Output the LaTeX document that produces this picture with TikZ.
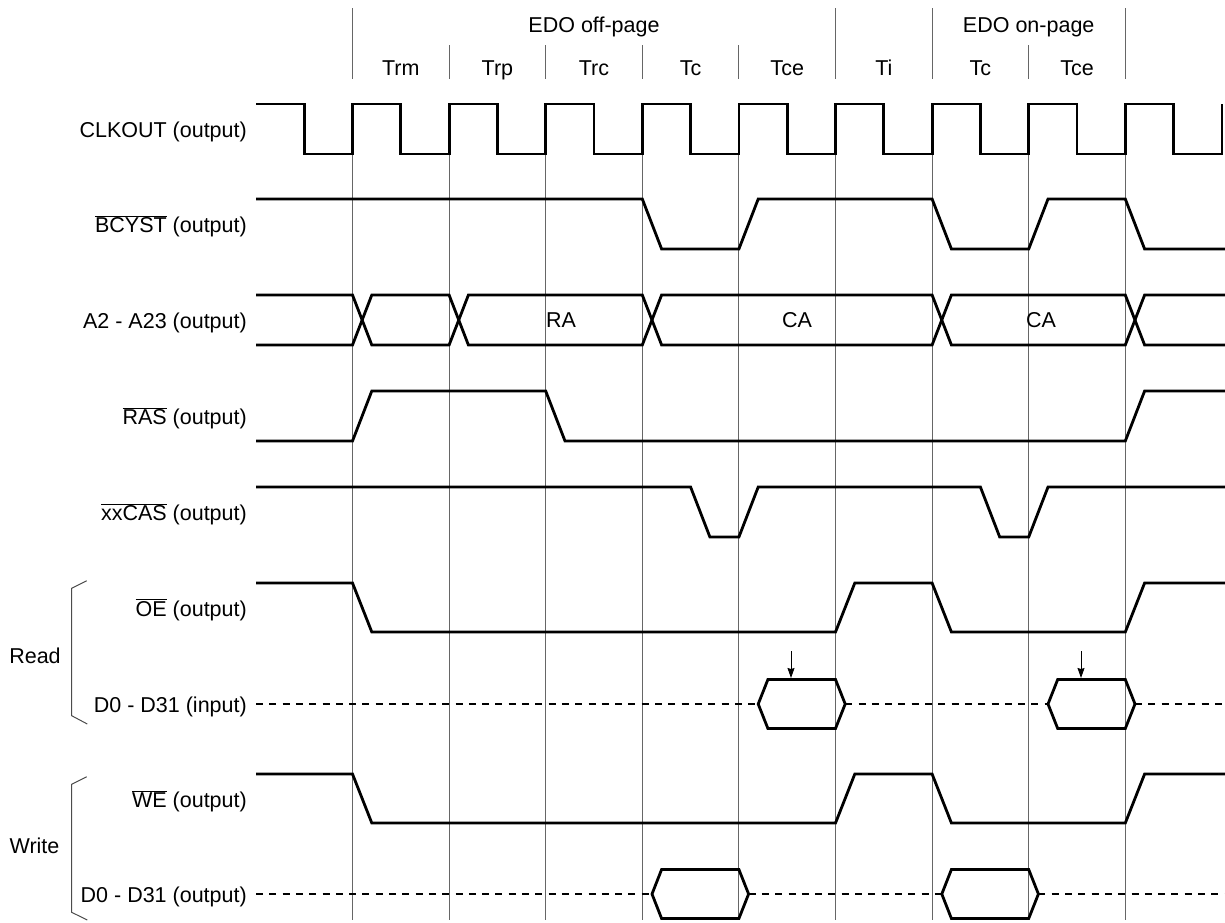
\documentclass[tikz,border=0pt]{standalone}
\usepackage{fontspec}
\setmainfont{Liberation Sans}
\usetikzlibrary{arrows.meta}
\tikzset{
  sig/.style={line width=2.8pt, line join=miter, line cap=butt},
  dsig/.style={sig, dash pattern=on 7pt off 6.3pt},
  gridline/.style={draw=black!60, line width=1pt},
  brace/.style={draw=black!70, line width=1pt},
  lbl/.style={font=\fontsize{21.5}{25}\selectfont, inner sep=0pt},
  sample/.style={line width=1pt, -{Stealth[length=10pt,width=7pt,inset=1pt]}}
}
\newcommand{\ovl}[1]{$\overline{\mbox{#1}}$}
\begin{document}
\begin{tikzpicture}[x=1pt,y=-1pt]
\useasboundingbox (0,0) rectangle (1225,922);

% grid lines
\foreach \xx in {352.5,449.1,545.7,642.3,738.9,835.5,932.1,1028.7,1125.3}
  \draw[gridline] (\xx,154) -- (\xx,920);
% header lines
\foreach \xx in {352.5,835.5,932.1,1125.3}
  \draw[gridline] (\xx,8) -- (\xx,79);
\foreach \xx in {449.1,545.7,642.3,738.9,1028.7}
  \draw[gridline] (\xx,45) -- (\xx,79);

% header texts
\node[lbl, anchor=base] (hoff) at (594,32) {EDO off-page};
\node[lbl, anchor=base] (hon) at (1028.7,32) {EDO on-page};
\node[lbl, anchor=base] (t1) at (400.8,75) {Trm};
\node[lbl, anchor=base] (t2) at (497.4,75) {Trp};
\node[lbl, anchor=base] (t3) at (594,75) {Trc};
\node[lbl, anchor=base] (t4) at (690.6,75) {Tc};
\node[lbl, anchor=base] (t5) at (787.2,75) {Tce};
\node[lbl, anchor=base] (t6) at (883.8,75) {Ti};
\node[lbl, anchor=base] (t7) at (980.4,75) {Tc};
\node[lbl, anchor=base] (t8) at (1077,75) {Tce};

% signal labels
\node[lbl, anchor=base east] (lclk) at (247,137) {CLKOUT (output)};
\node[lbl, anchor=base east] (lbcy) at (247,232.5) {\ovl{BCYST} (output)};
\node[lbl, anchor=base east] (ladr) at (247,328.5) {A2 - A23 (output)};
\node[lbl, anchor=base east] (lras) at (247,424.5) {\ovl{RAS} (output)};
\node[lbl, anchor=base east] (lcas) at (247,520.5) {\ovl{xxCAS} (output)};
\node[lbl, anchor=base east] (loe) at (247,616) {\ovl{OE} (output)};
\node[lbl, anchor=base east] (ldin) at (247,712) {D0 - D31 (input)};
\node[lbl, anchor=base east] (lwe) at (247,807) {\ovl{WE} (output)};
\node[lbl, anchor=base east] (ldout) at (247,902) {D0 - D31 (output)};

\node[lbl, anchor=base] (lread) at (35,663.5) {Read};
\node[lbl, anchor=base] (lwrite) at (34.5,853.5) {Write};

% braces
\draw[brace] (86.7,580.7) -- (71.7,588.3) -- (71.7,715.7) -- (87.3,724);
\draw[brace] (86.7,776.7) -- (71.7,784.3) -- (71.7,912.3) -- (87.3,920);

% CLKOUT
\draw[sig] (256,104) -- (304.2,104) -- (304.2,154) -- (352.5,154) -- (352.5,104)
  -- (400.8,104) -- (400.8,154) -- (449.1,154) -- (449.1,104)
  -- (497.4,104) -- (497.4,154) -- (545.7,154) -- (545.7,104)
  -- (594,104) -- (594,154) -- (642.3,154) -- (642.3,104)
  -- (690.6,104) -- (690.6,154) -- (738.9,154) -- (738.9,104)
  -- (787.2,104) -- (787.2,154) -- (835.5,154) -- (835.5,104)
  -- (883.8,104) -- (883.8,154) -- (932.1,154) -- (932.1,104)
  -- (980.4,104) -- (980.4,154) -- (1028.7,154) -- (1028.7,104)
  -- (1077,104) -- (1077,154) -- (1125.3,154) -- (1125.3,104)
  -- (1173.6,104) -- (1173.6,154) -- (1221.9,154) -- (1221.9,104);

% BCYST
\draw[sig] (256,199) -- (642.3,199) -- (661.6,249) -- (738.9,249) -- (758.2,199)
  -- (932.1,199) -- (951.4,249) -- (1028.7,249) -- (1048,199) -- (1125.3,199)
  -- (1144.6,249) -- (1225,249);

% A2 - A23 bus
\draw[sig] (256,295) -- (352.5,295) -- (371.8,345) -- (449.1,345) -- (468.4,295)
  -- (642.3,295) -- (661.6,345) -- (932.1,345) -- (951.4,295) -- (1125.3,295)
  -- (1144.6,345) -- (1225,345);
\draw[sig] (256,345) -- (352.5,345) -- (371.8,295) -- (449.1,295) -- (468.4,345)
  -- (642.3,345) -- (661.6,295) -- (932.1,295) -- (951.4,345) -- (1125.3,345)
  -- (1144.6,295) -- (1225,295);
\node[lbl] (ra) at (561,320) {RA};
\node[lbl] (ca1) at (797,320) {CA};
\node[lbl] (ca2) at (1041,320) {CA};

% RAS
\draw[sig] (256,441) -- (352.5,441) -- (371.8,391) -- (545.7,391) -- (565,441)
  -- (1125.3,441) -- (1144.6,391) -- (1225,391);

% xxCAS
\draw[sig] (256,487) -- (690.6,487) -- (709.9,537) -- (738.9,537) -- (758.2,487)
  -- (980.4,487) -- (999.7,537) -- (1028.7,537) -- (1048,487) -- (1225,487);

% OE
\draw[sig] (256,583) -- (352.5,583) -- (371.8,632) -- (835.5,632) -- (854.8,583)
  -- (932.1,583) -- (951.4,632) -- (1125.3,632) -- (1144.6,583) -- (1225,583);

% D0-D31 input
\draw[dsig] (256,704) -- (758.2,704);
\draw[sig] (758.2,704) -- (767.9,679.5) -- (835.5,679.5) -- (845.2,704)
  -- (835.5,728.5) -- (767.9,728.5) -- cycle;
\draw[dsig] (845.2,704) -- (1048,704);
\draw[sig] (1048,704) -- (1057.7,679.5) -- (1125.3,679.5) -- (1135,704)
  -- (1125.3,728.5) -- (1057.7,728.5) -- cycle;
\draw[dsig] (1135,704) -- (1225,704);

% sampling arrows
\coordinate (s1a) at (791,651);
\coordinate (s1b) at (791,678);
\coordinate (s2a) at (1081,651);
\coordinate (s2b) at (1081,678);
\draw[sample] (s1a) -- (s1b);
\draw[sample] (s2a) -- (s2b);

% WE
\draw[sig] (256,774) -- (352.5,774) -- (371.8,823) -- (835.5,823) -- (854.8,774)
  -- (932.1,774) -- (951.4,823) -- (1125.3,823) -- (1144.6,774) -- (1225,774);

% D0-D31 output
\draw[dsig] (256,894) -- (652,894);
\draw[sig] (652,894) -- (661.6,869.5) -- (738.9,869.5) -- (748.6,894)
  -- (738.9,918.5) -- (661.6,918.5) -- cycle;
\draw[dsig] (748.6,894) -- (941.8,894);
\draw[sig] (941.8,894) -- (951.4,869.5) -- (1028.7,869.5) -- (1038.4,894)
  -- (1028.7,918.5) -- (951.4,918.5) -- cycle;
\draw[dsig] (1038.4,894) -- (1225,894);
\end{tikzpicture}
\end{document}
